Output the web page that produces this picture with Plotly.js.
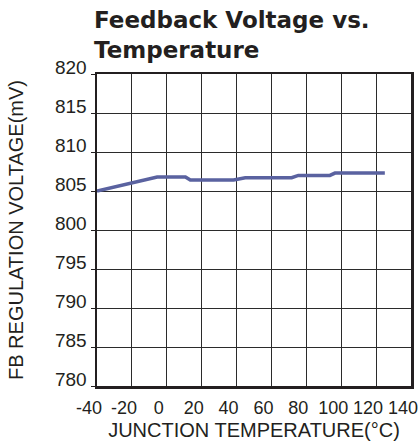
<!DOCTYPE html>
<html>
<head>
<meta charset="utf-8">
<script src="https://cdn.plot.ly/plotly-3.0.1.min.js"></script>
<style>html,body{margin:0;padding:0;background:#fff;}#chart{width:420px;height:444px;}</style>
</head>
<body>
<div id="chart"></div>
<script>
const temperatureC = [-40, -5.5, 10.7, 13.5, 38.3, 45, 71.6, 75.4, 93.5, 96.4, 125];
const fbVoltageMv = [805.0, 806.8, 806.8, 806.4, 806.4, 806.7, 806.7, 807.0, 807.0, 807.3, 807.3];
const xTicks = [-40, -20, 0, 20, 40, 60, 80, 100, 120, 140];
const yTicks = [780, 785, 790, 795, 800, 805, 810, 815, 820];

const FONT = 'Liberation Sans, Arial, Helvetica, sans-serif';
const TITLE_FONT = 'DejaVu Sans, Liberation Sans, Arial, sans-serif';
const INK = '#231f20';

const trace = {
  x: temperatureC,
  y: fbVoltageMv,
  type: 'scatter',
  mode: 'lines',
  line: {color: '#5a62a0', width: 3.5},
  hoverinfo: 'skip',
  showlegend: false
};

const layout = {
  width: 420,
  height: 444,
  margin: {l: 97, r: 9, t: 74, b: 58},
  paper_bgcolor: '#ffffff',
  plot_bgcolor: '#ffffff',
  font: {family: FONT, color: INK},
  title: {
    text: '<b>Feedback Voltage vs.<br>Temperature</b>',
    font: {family: TITLE_FONT, size: 23, color: INK},
    xref: 'container', yref: 'container',
    x: 94/420, xanchor: 'left',
    y: 1 - 28/444, yanchor: 'top'
  },
  xaxis: {
    range: [-40, 140],
    tickvals: xTicks,
    ticktext: xTicks.map(String),
    showgrid: true, gridcolor: '#2b2b2b', gridwidth: 1,
    zeroline: false,
    showline: true, mirror: true, linecolor: INK, linewidth: 2.5,
    ticks: '',
    ticklabelshift: -8,
    ticklabelstandoff: 4,
    ticklabeloverflow: 'allow',
    tickfont: {family: FONT, size: 18, color: INK},
    title: {text: 'JUNCTION TEMPERATURE(°C)', font: {family: FONT, size: 20, color: INK}, standoff: 6},
    fixedrange: true
  },
  yaxis: {
    range: [780, 820],
    tickvals: yTicks,
    ticktext: yTicks.map(String),
    showgrid: true, gridcolor: '#2b2b2b', gridwidth: 1,
    zeroline: false,
    showline: true, mirror: true, linecolor: INK, linewidth: 2.5,
    ticks: 'outside', ticklen: 4, tickwidth: 1, tickcolor: INK,
    ticklabelshift: -7,
    ticklabelstandoff: 0,
    ticklabeloverflow: 'allow',
    tickfont: {family: FONT, size: 19, color: INK},
    title: {text: 'FB REGULATION VOLTAGE(mV)', font: {family: FONT, size: 20, color: INK}, standoff: 26},
    fixedrange: true
  }
};

Plotly.newPlot('chart', [trace], layout, {displayModeBar: false, staticPlot: true});
</script>
</body>
</html>
